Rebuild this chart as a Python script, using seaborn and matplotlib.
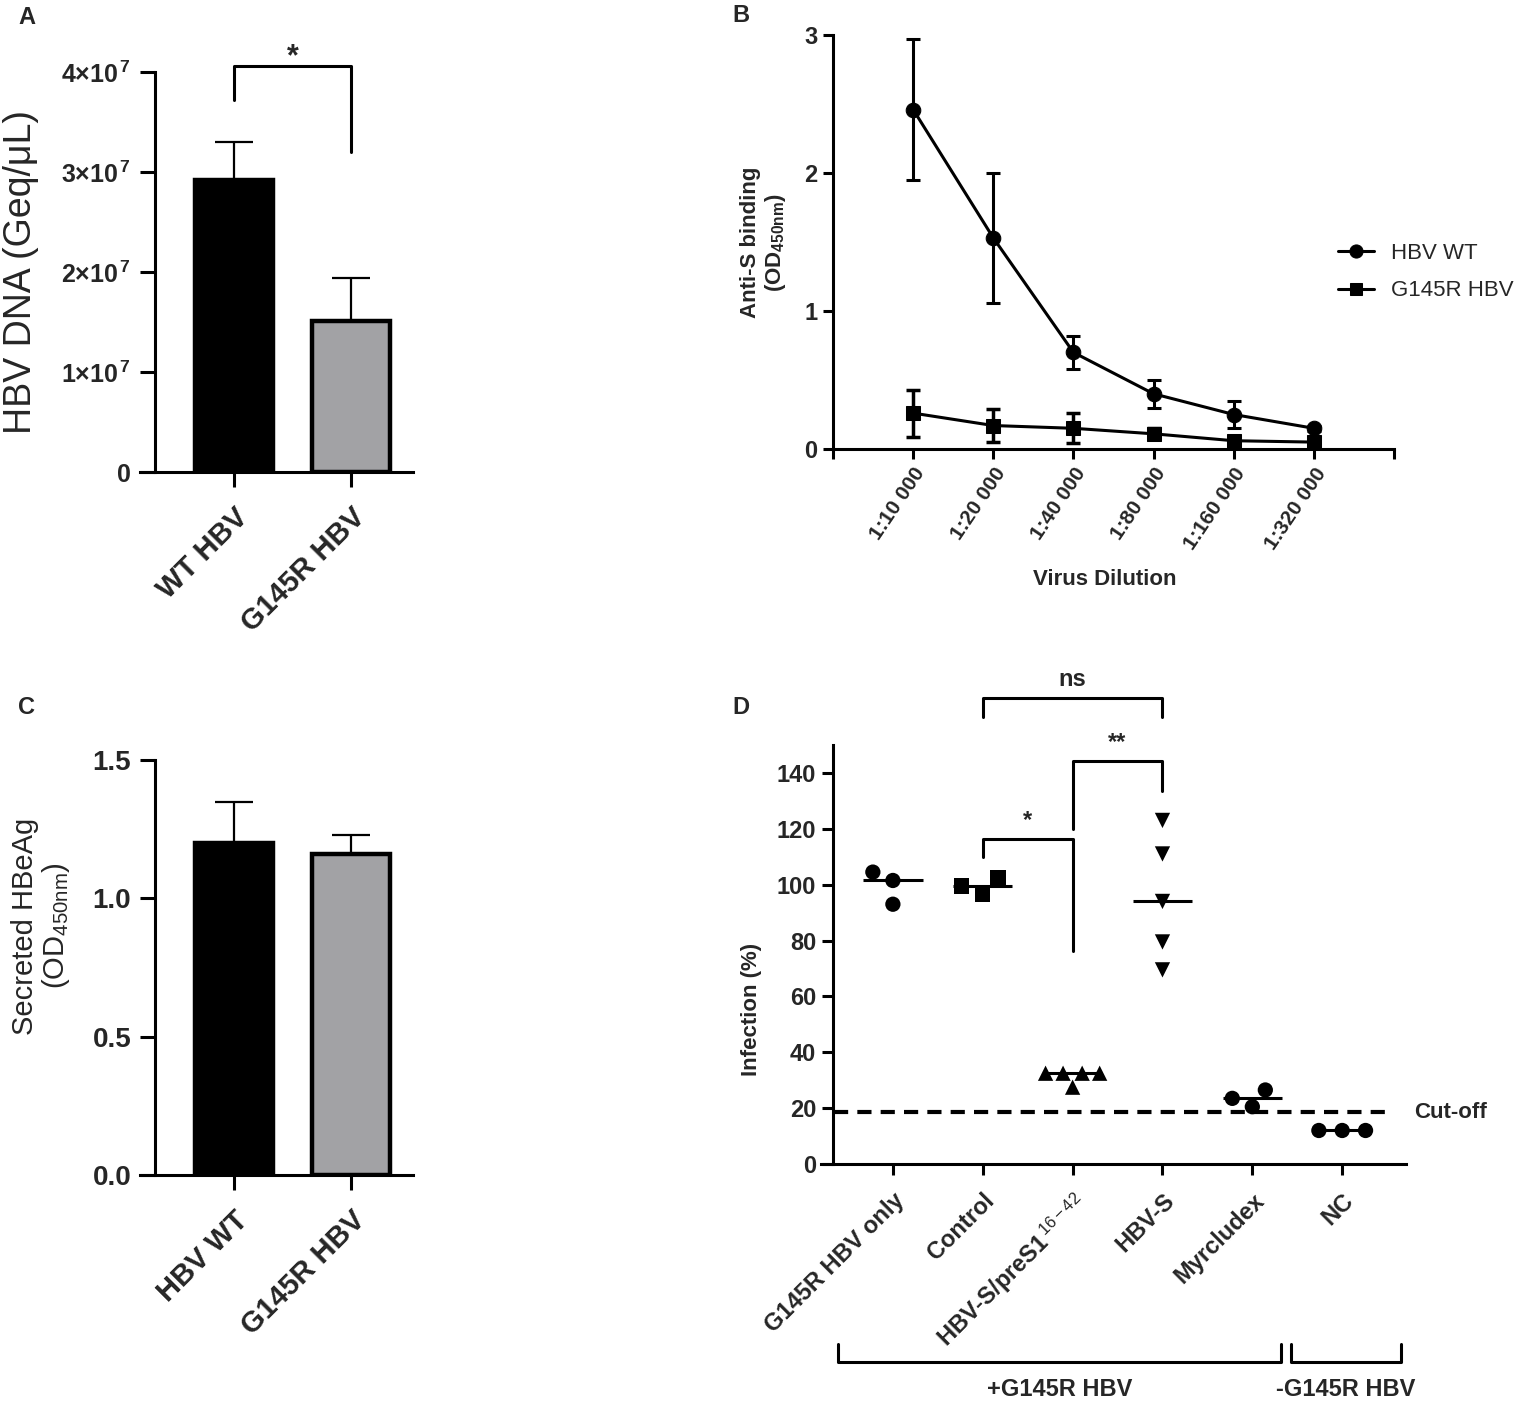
import numpy as np
import pandas as pd
import seaborn as sns
import matplotlib.pyplot as plt

sns.set_theme(style="ticks")
plt.rcParams['font.family'] = ['Liberation Sans', 'DejaVu Sans']
plt.rcParams['mathtext.fontset'] = 'custom'
plt.rcParams['mathtext.rm'] = 'Liberation Sans'
plt.rcParams['mathtext.bf'] = 'Liberation Sans:bold'
plt.rcParams['mathtext.it'] = 'Liberation Sans:italic'
plt.rcParams['mathtext.default'] = 'rm'

# ---- data ----
# A: HBV DNA
a_groups = ["WT HBV", "G145R HBV"]
a_mean = [2.92e7, 1.51e7]
a_sd = [0.38e7, 0.43e7]
a_ticks = [0, 1e7, 2e7, 3e7, 4e7]
a_ticklabels = ["0"] + [f"{k}×10$^{{\\,\\mathbf{{7}}}}$" for k in (1, 2, 3, 4)]

# B: anti-S binding
b_dilutions = ["1:10 000", "1:20 000", "1:40 000", "1:80 000", "1:160 000", "1:320 000"]
b_wt = [2.46, 1.53, 0.70, 0.40, 0.25, 0.15]
b_wt_sd = [0.51, 0.47, 0.12, 0.10, 0.10, 0.02]
b_mut = [0.26, 0.17, 0.15, 0.11, 0.06, 0.05]
b_mut_sd = [0.17, 0.12, 0.11, 0.04, 0.02, 0.02]

# C: HBeAg
c_groups = ["HBV WT", "G145R HBV"]
c_mean = [1.20, 1.16]
c_sd = [0.15, 0.07]

# D: infection
d_groups = ["G145R HBV only", "Control", "HBV-S/preS1$^{\\,16-42}$", "HBV-S", "Myrcludex", "NC"]
d_only = [104.5, 101.5, 93.0]
d_control = [102.5, 96.5, 99.5]
d_pres1 = [32.5, 32.5, 32.5, 32.5, 27.5]
d_hbvs = [123.0, 111.0, 94.0, 79.5, 69.5]
d_myr = [26.5, 23.5, 20.5]
d_nc = [12.0, 12.0, 12.0]
d_markers = ["o", "s", "^", "v", "o", "o"]
d_gap = [4, 5, 1, 4, 4, 5]   # invisible edge -> wider swarm spacing
d_cutoff = 18.5

W, H = 1536, 1406
fig = plt.figure(figsize=(W / 100, H / 100), dpi=100)


def px_axes(l, t, r, b):
    return fig.add_axes([l / W, 1 - b / H, (r - l) / W, (b - t) / H])


def style(ax, lw=2.2, tl=7):
    sns.despine(ax=ax)
    for s in ("left", "bottom"):
        ax.spines[s].set_linewidth(lw)
        ax.spines[s].set_color("black")
    ax.tick_params(direction="out", length=tl, width=lw, color="black", pad=4)
    ax.grid(False)
    ax.set_facecolor("white")


BAR_COLS = ["#000000", "#a2a1a6"]


def bar_panel(ax, groups, mean, sd):
    sns.barplot(x=groups, y=mean, hue=groups, palette=BAR_COLS, legend=False,
                width=0.67, edgecolor="black", linewidth=3.2, ax=ax, zorder=2)
    ax.errorbar(range(len(groups)), mean, yerr=[np.zeros(len(sd)), sd], fmt="none",
                ecolor="black", elinewidth=1.6, capsize=14, capthick=1.6, zorder=1)
    ax.set_xlim(-0.803, 1.53)
    ax.spines["left"].set_position(("data", -0.675))
    ax.tick_params(axis="x", pad=11)
    ax.tick_params(axis="y", pad=6)
    ax.set_xticks(range(len(groups)))
    ax.set_xticklabels(groups, rotation=45, ha="right", rotation_mode="anchor",
                       fontsize=21, fontweight="bold")
    ax.set_xlabel("")


# ---------------- A ----------------
axA = px_axes(140, 72, 413, 472)
style(axA, tl=11)
bar_panel(axA, a_groups, a_mean, a_sd)
axA.set_ylim(0, 4e7)
axA.set_yticks(a_ticks)
axA.set_yticklabels(a_ticklabels, fontsize=18, fontweight="bold")
axA.set_ylabel("HBV DNA (Geq/μL)", fontsize=27)
axA.yaxis.set_label_coords(-0.37, 0.5)
# significance bracket
axA.plot([0, 0, 1, 1], [3.72e7, 4.06e7, 4.06e7, 3.2e7], color="black", lw=2.2, clip_on=False)
axA.text(0.5, 4.15e7, "*", ha="center", va="center", fontsize=22, fontweight="bold")

# ---------------- C ----------------
axC = px_axes(140, 760, 413, 1175)
style(axC, tl=11)
bar_panel(axC, c_groups, c_mean, c_sd)
axC.set_ylim(0, 1.5)
axC.set_yticks([0, 0.5, 1.0, 1.5])
axC.set_yticklabels(["0.0", "0.5", "1.0", "1.5"], fontsize=20, fontweight="bold")
axC.set_ylabel("Secreted HBeAg\n(OD$_{450nm}$)", fontsize=21, linespacing=1.05)
axC.yaxis.set_label_coords(-0.25, 0.6)

# ---------------- B ----------------
axB = px_axes(833, 35, 1394, 449)
style(axB)
b_pos = np.arange(1, len(b_dilutions) + 1)
sns.lineplot(x=b_pos, y=b_wt, marker="o", markersize=10.5, color="black", linewidth=2.2,
             markeredgecolor="black", label="HBV WT", ax=axB, clip_on=False, zorder=3)
sns.lineplot(x=b_pos, y=b_mut, marker="s", markersize=10, color="black", linewidth=2.2,
             markeredgecolor="black", label="G145R HBV", ax=axB, clip_on=False, zorder=3)
axB.errorbar(b_pos, b_wt, yerr=b_wt_sd, fmt="none", ecolor="black", elinewidth=2.2,
             capsize=5, capthick=2.2, clip_on=False)
axB.errorbar(b_pos, b_mut, yerr=b_mut_sd, fmt="none", ecolor="black", elinewidth=2.5,
             capsize=5, capthick=2.5, clip_on=False)
axB.set_xlim(0, len(b_dilutions) + 1)
axB.set_ylim(0, 3)
axB.set_xticks(range(len(b_dilutions) + 2))
axB.set_xticklabels([""] + b_dilutions + [""], rotation=56, ha="right",
                    rotation_mode="anchor", fontsize=15, fontweight="bold")
axB.set_yticks([0, 1, 2, 3])
axB.set_yticklabels(["0", "1", "2", "3"], fontsize=17, fontweight="bold")
axB.set_xlabel("Virus Dilution", fontsize=16, fontweight="bold")
axB.xaxis.set_label_coords(0.485, -0.29)
axB.set_ylabel("Anti-S binding\n(OD$_{\\mathbf{450nm}}$)", fontsize=16, fontweight="bold",
               linespacing=1.1)
axB.yaxis.set_label_coords(-0.08, 0.5)
leg = axB.legend(loc="center left", bbox_to_anchor=(1338 / W, 1 - 272 / H),
                 bbox_transform=fig.transFigure, frameon=False, fontsize=16,
                 handlelength=1.6, labelspacing=0.75, handletextpad=0.8,
                 borderpad=0, borderaxespad=0, markerscale=0.9)

# ---------------- D ----------------
axD = px_axes(821, 745, 1406, 1164)
style(axD, tl=8)
d_values = [d_only, d_control, d_pres1, d_hbvs, d_myr, d_nc]
df_d = pd.DataFrame({"group": np.repeat(d_groups, [len(v) for v in d_values]),
                     "value": np.concatenate(d_values)})
for g, m, gap in zip(d_groups, d_markers, d_gap):
    sns.swarmplot(data=df_d[df_d["group"] == g], x="group", y="value", order=d_groups,
                  marker=m, color="black", size=11, linewidth=gap, edgecolor="none",
                  ax=axD, zorder=3)
for i, vals in enumerate(d_values):
    axD.hlines(np.median(vals), i - 0.33, i + 0.33, color="black", lw=2.2, zorder=4)
axD.hlines(d_cutoff, -0.65, 5.55, color="black", lw=3, linestyles=(0, (3.4, 2.2)), zorder=2)
axD.text(5.8, d_cutoff, "Cut-off", ha="left", va="center", fontsize=16, fontweight="bold",
         clip_on=False)
axD.set_xlim(-0.80, 5.71)
axD.set_ylim(0, 150)
axD.spines["left"].set_position(("data", -0.668))
axD.set_yticks(range(0, 141, 20))
axD.set_yticklabels([str(v) for v in range(0, 141, 20)], fontsize=17, fontweight="bold")
axD.set_xticks(range(len(d_groups)))
axD.set_xticklabels(d_groups, rotation=45, ha="right", rotation_mode="anchor",
                    fontsize=17, fontweight="bold")
axD.tick_params(axis="x", pad=10)
axD.set_xlabel("")
axD.set_ylabel("Infection (%)", fontsize=16, fontweight="bold")
axD.yaxis.set_label_coords(-0.10, 0.37)


def bracket(ax, x1, x2, y, y1, y2, txt):
    ax.plot([x1, x1, x2, x2], [y1, y, y, y2], color="black", lw=2.2, clip_on=False)
    ax.text((x1 + x2) / 2, y + 2.5, txt, ha="center", va="bottom", fontsize=17,
            fontweight="bold")


bracket(axD, 1, 3, 166.8, 160, 160, "ns")
bracket(axD, 2, 3, 144.3, 120, 133.6, "**")
bracket(axD, 1, 2, 116.4, 110, 76.4, "*")

# group brackets under the x labels
tr = axD.get_xaxis_transform()
for x1, x2, txt in [(-0.61, 4.32, "+G145R HBV"), (4.43, 5.65, "-G145R HBV")]:
    axD.plot([x1, x1, x2, x2], [-0.43, -0.473, -0.473, -0.43], color="black", lw=2.2,
             transform=tr, clip_on=False)
    axD.text((x1 + x2) / 2, -0.51, txt, transform=tr, ha="center", va="top", fontsize=17,
             fontweight="bold")

# panel letters
for txt, x, y in [("A", 18, 18), ("B", 732, 15), ("C", 18, 707), ("D", 732, 707)]:
    fig.text(x / W, 1 - y / H, txt, fontsize=17, fontweight="bold", ha="left", va="center")

fig.savefig("out.png", dpi=100, facecolor="white")
